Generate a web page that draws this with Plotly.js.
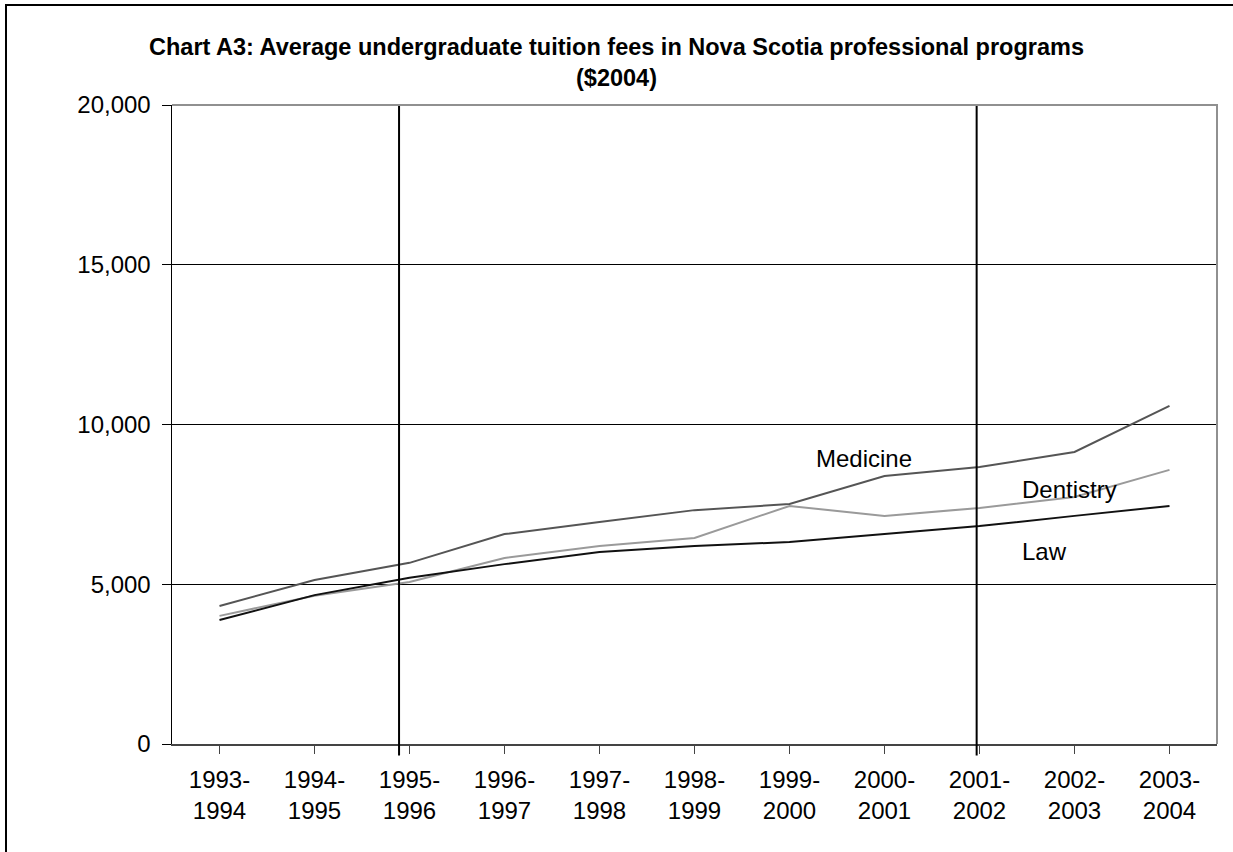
<!DOCTYPE html>
<html>
<head>
<meta charset="utf-8">
<script src="https://cdn.plot.ly/plotly-3.0.1.min.js"></script>
<style>
  html, body { margin: 0; padding: 0; background: #ffffff; }
  #chart { width: 1233px; height: 852px; }
</style>
</head>
<body>
<div id="chart"></div>
<script>
// Academic years (categories)
const years = ["1993-1994","1994-1995","1995-1996","1996-1997","1997-1998","1998-1999",
               "1999-2000","2000-2001","2001-2002","2002-2003","2003-2004"];
const yearLabels = ["1993-<br>1994","1994-<br>1995","1995-<br>1996","1996-<br>1997","1997-<br>1998",
                    "1998-<br>1999","1999-<br>2000","2000-<br>2001","2001-<br>2002","2002-<br>2003","2003-<br>2004"];

// Average tuition fees ($2004)
const medicine  = [4320, 5130, 5670, 6570, 6950, 7320, 7510, 8390, 8670, 9140, 10580];
const dentistry = [4010, 4640, 5070, 5820, 6200, 6450, 7450, 7140, 7390, 7730, 8580];
const law       = [3880, 4660, 5200, 5630, 6010, 6200, 6320, 6570, 6820, 7140, 7450];

// Series label text
const seriesNames = ["Medicine", "Dentistry", "Law"];
const yTicks = [0, 5000, 10000, 15000, 20000];
// vertical marker lines (category positions)
const markerPositions = [1.89, 7.97];

const font = "Liberation Sans, Arial, sans-serif";
const xIdx = years.map((_, i) => i);

const traces = [
  { x: xIdx, y: medicine,  name: seriesNames[0], mode: "lines", line: { color: "#555555", width: 2 } },
  { x: xIdx, y: dentistry, name: seriesNames[1], mode: "lines", line: { color: "#9a9a9a", width: 2 } },
  { x: xIdx, y: law,       name: seriesNames[2], mode: "lines", line: { color: "#111111", width: 2 } }
];

const shapes = markerPositions.map(p => ({
  type: "line", xref: "x", yref: "paper", x0: p, x1: p, y0: -0.018, y1: 1,
  line: { color: "#000000", width: 2 }, layer: "above"
}));
// gray plot-area border (top and right)
shapes.push({
  type: "path", xref: "paper", yref: "paper",
  path: "M 0,1 L 1,1 L 1,0",
  line: { color: "#909090", width: 2 }, layer: "above"
});
// outer chart border
shapes.push({
  type: "rect", xref: "paper", yref: "paper",
  x0: -166 / 1045, x1: 1.05, y0: -0.2, y1: 1 + 100 / 639,
  line: { color: "#000000", width: 2 }, fillcolor: "rgba(0,0,0,0)", layer: "below"
});

const layout = {
  width: 1233, height: 852,
  margin: { l: 172, r: 16, t: 105, b: 108 },
  paper_bgcolor: "#ffffff", plot_bgcolor: "#ffffff",
  showlegend: false,
  font: { family: font, size: 24, color: "#000000" },
  title: {
    text: "<b>Chart A3: Average undergraduate tuition fees in Nova Scotia professional programs<br>($2004)</b>",
    font: { family: font, size: 23.5, color: "#000000" },
    x: 0.5, xref: "container", xanchor: "center",
    y: 1 - 55 / 852, yref: "container", yanchor: "top"
  },
  xaxis: {
    range: [-0.5, 10.5],
    tickmode: "array",
    tickvals: xIdx, ticktext: yearLabels,
    tickson: "boundaries",
    showgrid: false, zeroline: false,
    showline: true, linecolor: "#444444", linewidth: 2,
    ticks: "outside", ticklen: 8, tickcolor: "#444444", tickwidth: 1,
    tickfont: { family: font, size: 24, color: "#000000" },
    ticklabelstandoff: 5,
    fixedrange: true
  },
  yaxis: {
    range: [0, 20000],
    tickmode: "array", tickvals: yTicks,
    tickformat: ",d",
    showgrid: true, gridcolor: "#000000", gridwidth: 1,
    zeroline: false,
    showline: true, linecolor: "#000000", linewidth: 1.5,
    ticks: "outside", ticklen: 9, tickcolor: "#000000", tickwidth: 1,
    tickfont: { family: font, size: 24, color: "#000000" },
    ticklabelstandoff: 6,
    fixedrange: true
  },
  shapes: shapes,
  annotations: [
    { x: 6.78, y: 8950, xref: "x", yref: "y", text: seriesNames[0], showarrow: false,
      xanchor: "center", yanchor: "middle", font: { family: font, size: 24, color: "#000000" } },
    { x: 8.43, y: 7980, xref: "x", yref: "y", text: seriesNames[1], showarrow: false,
      xanchor: "left", yanchor: "middle", font: { family: font, size: 24, color: "#000000" } },
    { x: 8.43, y: 6010, xref: "x", yref: "y", text: seriesNames[2], showarrow: false,
      xanchor: "left", yanchor: "middle", font: { family: font, size: 24, color: "#000000" } }
  ]
};

Plotly.newPlot("chart", traces, layout, { displayModeBar: false, staticPlot: true });
</script>
</body>
</html>
